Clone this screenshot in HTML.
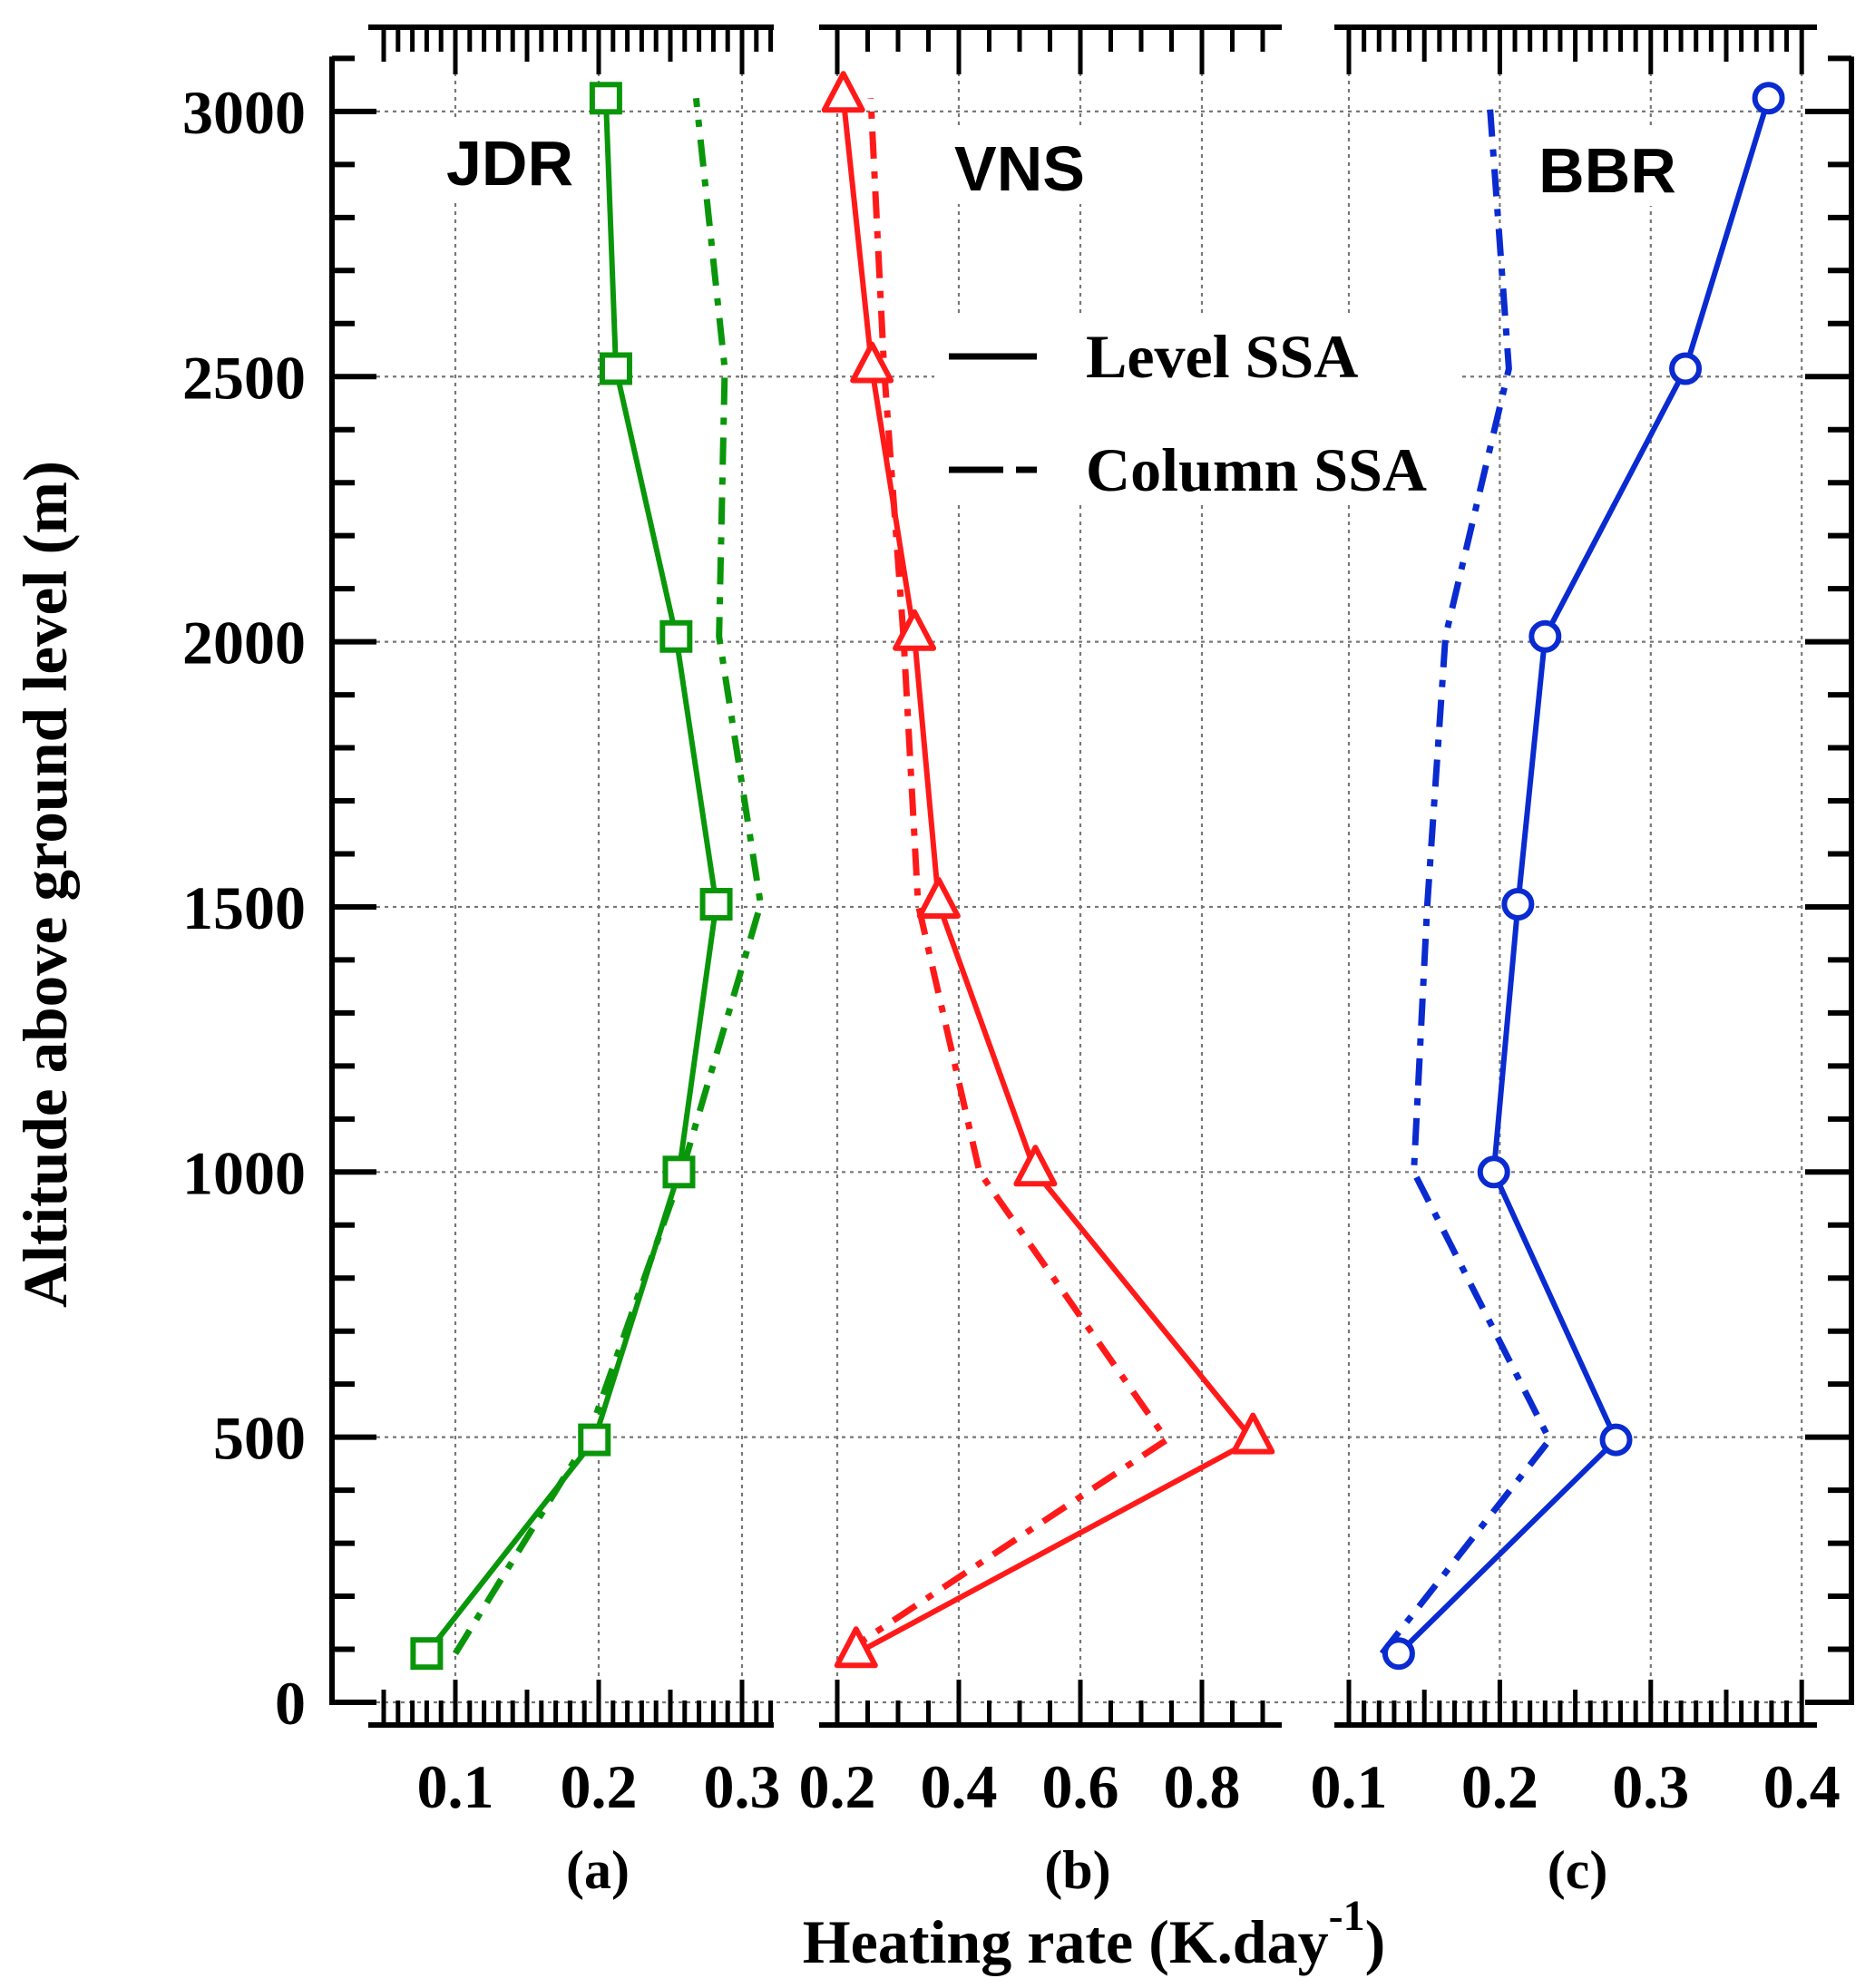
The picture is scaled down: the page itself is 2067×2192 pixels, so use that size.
<!DOCTYPE html>
<html><head><meta charset="utf-8"><style>
html,body{margin:0;padding:0;background:#fff;}
svg{display:block;}
</style></head><body>
<svg id="chart" width="2067" height="2192" viewBox="0 0 2067 2192" xmlns="http://www.w3.org/2000/svg">
<g id="grid"></g>
<g id="axes"></g>
<g id="series"></g>
<g id="labels"></g>
</svg>
<script>
const altitudes = [92, 495, 1000, 1505, 2010, 2515, 3025];
const jdrLevel = [0.080, 0.197, 0.256, 0.282, 0.254, 0.212, 0.205];
const jdrColumn = [0.100, 0.192, 0.258, 0.313, 0.284, 0.288, 0.268];
const vnsLevel = [0.231, 0.884, 0.526, 0.367, 0.327, 0.257, 0.210];
const vnsColumn = [0.210, 0.742, 0.434, 0.333, 0.309, 0.277, 0.255];
const bbrLevel = [0.133, 0.277, 0.196, 0.212, 0.230, 0.323, 0.378];
const bbrColumn = [0.122, 0.233, 0.143, 0.152, 0.164, 0.206, 0.193];
const yTickLabels = ["0", "500", "1000", "1500", "2000", "2500", "3000"];
const aTickLabels = ["0.1", "0.2", "0.3"];
const bTickLabels = ["0.2", "0.4", "0.6", "0.8"];
const cTickLabels = ["0.1", "0.2", "0.3", "0.4"];

const NS = "http://www.w3.org/2000/svg";
function mk(parent, tag, attrs, text) {
  const e = document.createElementNS(NS, tag);
  for (const k in attrs) e.setAttribute(k, attrs[k]);
  if (text !== undefined) e.textContent = text;
  parent.appendChild(e);
  return e;
}
const gGrid = document.getElementById('grid');
const gAxes = document.getElementById('axes');
const gSer = document.getElementById('series');
const gLab = document.getElementById('labels');

const Y0 = 1877, YK = 0.5847;
function yS(a) { return Y0 - a * YK; }

const panels = [
  {key:'a', x0:502, v0:0.1, k:1580, lineL:406, lineR:853, tickStart:5, tickEnd:32, tickStep:0.01, majorEvery:10, midEvery:5, labels:aTickLabels, color:'#0a960a', name:'JDR', marker:'square', lvl:jdrLevel, col:jdrColumn, sub:'(a)', subX:659},
  {key:'b', x0:923, v0:0.2, k:670, lineL:903, lineR:1413, tickStart:4, tickEnd:18, tickStep:0.05, majorEvery:4, midEvery:0, labels:bTickLabels, color:'#ff1a1a', name:'VNS', marker:'triangle', lvl:vnsLevel, col:vnsColumn, sub:'(b)', subX:1188},
  {key:'c', x0:1487, v0:0.1, k:1664, lineL:1471, lineR:2003, tickStart:10, tickEnd:40, tickStep:0.01, majorEvery:10, midEvery:5, labels:cTickLabels, color:'#0a2bd0', name:'BBR', marker:'circle', lvl:bbrLevel, col:bbrColumn, sub:'(c)', subX:1739}
];
function xS(p, v) { return p.x0 + (v - p.v0) * p.k; }

for (let i = 0; i < yTickLabels.length; i++) {
  const y = yS(parseFloat(yTickLabels[i]));
  const l = mk(gGrid, 'line', {x1:415, x2:1990, y1:y, y2:y, stroke:'#777', 'stroke-width':2.2, 'stroke-dasharray':'4 5'});
  
  
}
panels.forEach(p => {
  p.labels.forEach(t => {
    const x = xS(p, parseFloat(t));
    const l = mk(gGrid, 'line', {x1:x, x2:x, y1:80, y2:1852, stroke:'#777', 'stroke-width':2.2, 'stroke-dasharray':'4 5'});
    
    
  });
});

const yAxL = mk(gAxes, 'line', {x1:366, x2:366, y1:yS(3100)-2, y2:Y0+3, stroke:'#000', 'stroke-width':6});


const yAxR = mk(gAxes, 'line', {x1:2041, x2:2041, y1:yS(3100)-2, y2:Y0+3, stroke:'#000', 'stroke-width':6});


for (let a = 0; a <= 3100; a += 100) {
  const y = yS(a);
  const major = a % 500 === 0;
  mk(gAxes, 'line', {x1:366, x2: major ? 415 : 391, y1:y, y2:y, stroke:'#000', 'stroke-width':6});
  mk(gAxes, 'line', {x1:2041, x2: major ? 1990 : 2015, y1:y, y2:y, stroke:'#000', 'stroke-width':6});
}
yTickLabels.forEach(t => {
  const e = mk(gLab, 'text', {x:337, y:yS(parseFloat(t)) + 24, 'text-anchor':'end', 'font-family':'Liberation Serif, serif', 'font-weight':'bold', 'font-size':68}, t);
  
  
});

panels.forEach(p => {
  const bot = mk(gAxes, 'line', {x1:p.lineL, x2:p.lineR, y1:1902, y2:1902, stroke:'#000', 'stroke-width':6});
  
  
  const top = mk(gAxes, 'line', {x1:p.lineL, x2:p.lineR, y1:30, y2:30, stroke:'#000', 'stroke-width':6});
  
  
  for (let i = p.tickStart; i <= p.tickEnd; i++) {
    const v = i * p.tickStep;
    const x = xS(p, v);
    let hb = 1875, ht = 57;
    if (i % p.majorEvery === 0) { hb = 1852; ht = 82; }
    else if (p.midEvery && i % p.midEvery === 0) { hb = 1863; ht = 68; }
    mk(gAxes, 'line', {x1:x, x2:x, y1:1902, y2:hb, stroke:'#000', 'stroke-width':5});
    mk(gAxes, 'line', {x1:x, x2:x, y1:30, y2:ht, stroke:'#000', 'stroke-width':5});
  }
  p.labels.forEach(t => {
    const e = mk(gLab, 'text', {x:xS(p, parseFloat(t)), y:1993, 'text-anchor':'middle', 'font-family':'Liberation Serif, serif', 'font-weight':'bold', 'font-size':68}, t);
    
    
  });
  const s = mk(gLab, 'text', {x:p.subX, y:2082, 'text-anchor':'middle', 'font-family':'Liberation Serif, serif', 'font-weight':'bold', 'font-size':60}, p.sub);
  
  
});

const titles = [{t:'JDR', x:562, y:204}, {t:'VNS', x:1124, y:210}, {t:'BBR', x:1772, y:212}];
titles.forEach(o => {
  mk(gGrid, 'rect', {x:o.x - 90, y:o.y - 70, width:180, height:85, fill:'#fff'});
  const e = mk(gLab, 'text', {x:o.x, y:o.y, 'text-anchor':'middle', 'font-family':'Liberation Sans, sans-serif', 'font-weight':'bold', 'font-size':70}, o.t);
  
  
});

function pts(p, vals) {
  return vals.map((v, i) => xS(p, v).toFixed(1) + ',' + yS(altitudes[i]).toFixed(1)).join(' ');
}
panels.forEach(p => {
  const c = mk(gSer, 'polyline', {points:pts(p, p.col), fill:'none', stroke:p.color, 'stroke-width':7, 'stroke-dasharray':'30 14 8 14'});
  
  
  const l = mk(gSer, 'polyline', {points:pts(p, p.lvl), fill:'none', stroke:p.color, 'stroke-width':6, 'stroke-linejoin':'round'});
  
  
  p.lvl.forEach((v, i) => {
    const x = xS(p, v), y = yS(altitudes[i]);
    let m;
    if (p.marker === 'square') m = mk(gSer, 'rect', {x:x - 15, y:y - 15, width:30, height:30, fill:'#fff', stroke:p.color, 'stroke-width':6});
    else if (p.marker === 'triangle') m = mk(gSer, 'polygon', {points:`${x},${y - 27} ${x - 21},${y + 13} ${x + 21},${y + 13}`, fill:'#fff', stroke:p.color, 'stroke-width':6, 'stroke-linejoin':'round'});
    else m = mk(gSer, 'circle', {cx:x, cy:y, r:15, fill:'#fff', stroke:p.color, 'stroke-width':6});
    
    
  });
});

mk(gGrid, 'rect', {x:1030, y:345, width:580, height:210, fill:'#fff'});
const lg = mk(gLab, 'g', {});


const l1 = mk(lg, 'line', {x1:1046, x2:1143, y1:393, y2:393, stroke:'#000', 'stroke-width':7});


const t1 = mk(lg, 'text', {x:1197, y:416, 'font-family':'Liberation Serif, serif', 'font-weight':'bold', 'font-size':68}, 'Level SSA');


const l2 = mk(lg, 'line', {x1:1046, x2:1143, y1:518, y2:518, stroke:'#000', 'stroke-width':7, 'stroke-dasharray':'60 14 23 40'});


const t2 = mk(lg, 'text', {x:1197, y:541, 'font-family':'Liberation Serif, serif', 'font-weight':'bold', 'font-size':68}, 'Column SSA');



const yt = mk(gLab, 'text', {x:0, y:0, transform:'translate(73,975) rotate(-90)', 'text-anchor':'middle', 'font-family':'Liberation Serif, serif', 'font-weight':'bold', 'font-size':69}, 'Altitude above ground level (m)');


const xt = mk(gLab, 'text', {x:1206, y:2164, 'text-anchor':'middle', 'font-family':'Liberation Serif, serif', 'font-weight':'bold', 'font-size':68});


mk(xt, 'tspan', {}, 'Heating rate (K.day');
mk(xt, 'tspan', {dy:-36, 'font-size':48}, '-1');
mk(xt, 'tspan', {dy:36}, ')');
</script>
</body></html>
